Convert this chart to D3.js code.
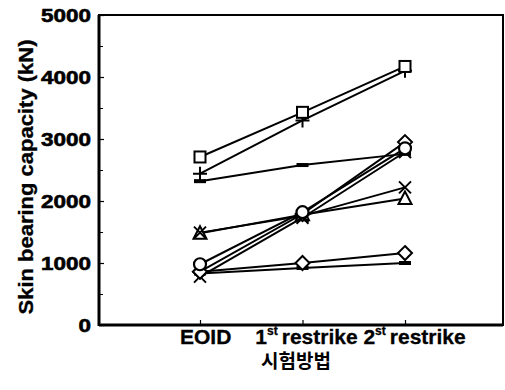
<!DOCTYPE html>
<html><head><meta charset="utf-8">
<script src="https://cdn.jsdelivr.net/npm/d3@7"></script>
<style>body{margin:0;background:#fff}svg{display:block}</style>
</head><body>
<script>
const categories = ["EOID", "1st restrike", "2st restrike"];
const catMain = ["EOID", "1", "restrike 2", "restrike"];
const yTicks = [0, 1000, 2000, 3000, 4000, 5000];
const yMinorTicks = [500, 1500, 2500, 3500, 4500];
const sSquare   = [2710, 3430, 4170];
const sPlus     = [2440, 3300, 4100];
const sDashHigh = [2320, 2580, 2760];
const sTriangle = [1480, 1780, 2040];
const sCrossMid = [1490, 1760, 2220];
const sCircle   = [980, 1820, 2850];
const sDiamondA = [860, 1790, 2950];
const sCrossLow = [780, 1730, 2790];
const sDiamondB = [860, 1000, 1160];
const sDashLow  = [830, 920, 1000];
const series = [
  {v: sDashHigh, m: "dash"}, {v: sDashLow, m: "dash"},
  {v: sDiamondB, m: "diamond"}, {v: sTriangle, m: "triangle"},
  {v: sCrossMid, m: "cross"}, {v: sCrossLow, m: "cross"},
  {v: sDiamondA, m: "diamond"}, {v: sCircle, m: "circle"},
  {v: sPlus, m: "plus"}, {v: sSquare, m: "square"}
];

const W = 505, H = 390;
const frame = {l: 99, r: 503, t: 15, b: 325};
const svg = d3.select("body").append("svg").attr("width", W).attr("height", H);
const x = d3.scaleLinear().domain([0, 2]).range([200, 405]);
const y = d3.scaleLinear().domain([0, 5000]).range([frame.b, frame.t]);

// frame
svg.append("rect").attr("x", frame.l).attr("y", frame.t)
  .attr("width", frame.r - frame.l).attr("height", frame.b - frame.t)
  .attr("fill", "none").attr("stroke", "#000").attr("stroke-width", 2);
svg.append("line").attr("x1", frame.l).attr("x2", frame.l).attr("y1", frame.t).attr("y2", frame.b + 1)
  .attr("stroke", "#000").attr("stroke-width", 3);
svg.append("line").attr("x1", frame.l).attr("x2", frame.r).attr("y1", frame.b).attr("y2", frame.b)
  .attr("stroke", "#000").attr("stroke-width", 3);

const font = "Liberation Sans, Arial, sans-serif";

// y axis
const yAxis = d3.axisLeft(y).tickValues(yTicks).tickSize(-5).tickPadding(8).tickFormat(d3.format("d"));
const gy = svg.append("g").attr("transform", `translate(${frame.l},0)`).call(yAxis);
gy.select(".domain").remove();
gy.selectAll(".tick line").attr("stroke-width", 1.2);
gy.selectAll("text").attr("font-family", font)
  .attr("font-weight", "bold").attr("font-size", 19).attr("fill", "#000")
  .attr("stroke", "#000").attr("stroke-width", 0.6)
  .attr("textLength", d => String(d).length * 12.5).attr("lengthAdjust", "spacingAndGlyphs");
const gym = svg.append("g").attr("transform", `translate(${frame.l},0)`)
  .call(d3.axisLeft(y).tickValues(yMinorTicks).tickSize(-4).tickFormat(""));
gym.select(".domain").remove();
gym.selectAll(".tick line").attr("stroke-width", 1);

// x ticks
const gx = svg.append("g").attr("transform", `translate(0,${frame.b})`)
  .call(d3.axisBottom(x).tickValues([0, 1, 2]).tickSize(-5).tickFormat(""));
gx.select(".domain").remove();
gx.selectAll(".tick line").attr("stroke-width", 1.2);

// x labels
const lab = svg.append("text").attr("x", x(0) - 20).attr("y", 344)
  .attr("font-family", font).attr("font-weight", "bold").attr("font-size", 21).attr("fill", "#000")
  .attr("stroke", "#000").attr("stroke-width", 0.3);
lab.append("tspan").text(catMain[0]);
lab.append("tspan").attr("dx", 24).text(catMain[1]);
lab.append("tspan").attr("dy", -9).attr("font-size", 12).text("st");
lab.append("tspan").attr("dy", 9).attr("dx", 4).text(catMain[2]);
lab.append("tspan").attr("dy", -9).attr("font-size", 12).text("st");
lab.append("tspan").attr("dy", 9).attr("dx", 4).text(catMain[3]);

svg.append("text").attr("x", 296).attr("y", 368).attr("text-anchor", "middle")
  .attr("font-family", "Noto Sans CJK KR, sans-serif").attr("font-weight", "bold")
  .attr("font-size", 19).attr("fill", "#000").text("시험방법");

// y label
svg.append("text").attr("transform", `translate(33,177) rotate(-90)`)
  .attr("text-anchor", "middle").attr("font-family", font).attr("font-weight", "bold")
  .attr("font-size", 20).attr("textLength", 275).attr("lengthAdjust", "spacingAndGlyphs")
  .attr("stroke", "#000").attr("stroke-width", 0.3)
  .attr("fill", "#000").text("Skin bearing capacity (kN)");

// lines
const line = d3.line().x((d, i) => x(i)).y(d => y(d));
svg.append("g").selectAll("path").data(series).join("path")
  .attr("d", s => line(s.v)).attr("fill", "none").attr("stroke", "#000").attr("stroke-width", 2);

// markers
const mg = svg.append("g");
series.forEach(s => {
  s.v.forEach((v, i) => {
    const cx = x(i), cy = y(v);
    const g = mg.append("g").attr("transform", `translate(${cx},${cy})`);
    if (s.m === "square") g.append("rect").attr("x", -5.5).attr("y", -5.5).attr("width", 11).attr("height", 11)
      .attr("fill", "#fff").attr("stroke", "#000").attr("stroke-width", 2);
    else if (s.m === "circle") g.append("circle").attr("r", 6).attr("fill", "#fff").attr("stroke", "#000").attr("stroke-width", 2.2);
    else if (s.m === "diamond") g.append("path").attr("d", "M0,-7L7,0L0,7L-7,0Z").attr("fill", "#fff").attr("stroke", "#000").attr("stroke-width", 2);
    else if (s.m === "triangle") g.append("path").attr("d", "M0,-7L6.5,5.5L-6.5,5.5Z").attr("fill", "#fff").attr("stroke", "#000").attr("stroke-width", 2);
    else if (s.m === "plus") g.append("path").attr("d", "M-7,0H7M0,-7V7").attr("stroke", "#000").attr("stroke-width", 2);
    else if (s.m === "cross") g.append("path").attr("d", "M-6,-6L6,6M6,-6L-6,6").attr("stroke", "#000").attr("stroke-width", 2);
    else if (s.m === "dash") g.append("rect").attr("x", -6).attr("y", -2).attr("width", 12).attr("height", 4).attr("fill", "#000");
  });
});
</script>
</body></html>
